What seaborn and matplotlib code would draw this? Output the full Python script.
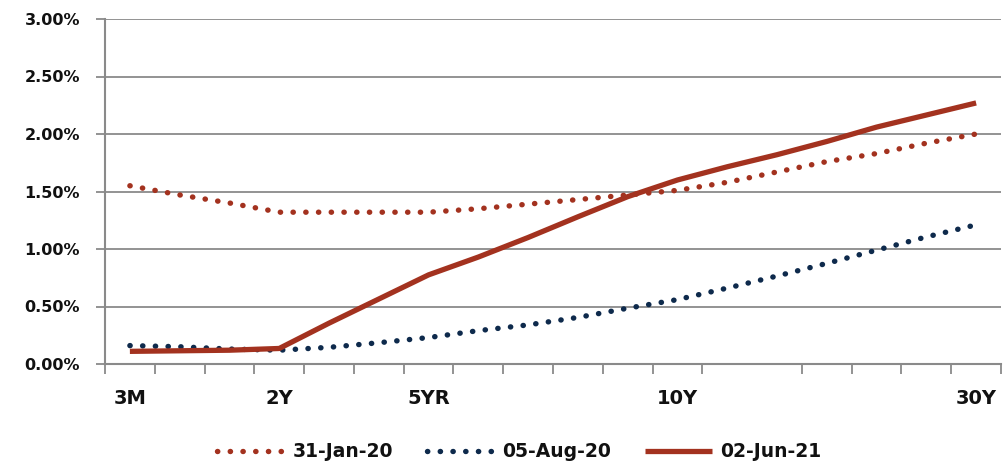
import matplotlib
matplotlib.use("Agg")
import matplotlib.pyplot as plt
import numpy as np
import pandas as pd
import seaborn as sns

# Yield curve tenors (one category per point) and the labels shown on the axis
tenors = ["3M", "6M", "1Y", "2Y", "3Y", "4Y", "5YR", "6Y", "7Y", "8Y",
          "9Y", "10Y", "12Y", "15Y", "20Y", "25Y", "27Y", "30Y"]
shown_labels = ["3M", "2Y", "5YR", "10Y", "30Y"]

# Yields in percent
jan20 = [1.55, 1.47, 1.40, 1.32, 1.32, 1.32, 1.32, 1.35, 1.39, 1.43,
         1.47, 1.51, 1.58, 1.67, 1.76, 1.83, 1.92, 2.00]
aug20 = [0.16, 0.15, 0.13, 0.12, 0.145, 0.185, 0.23, 0.29, 0.34, 0.405,
         0.485, 0.56, 0.66, 0.765, 0.875, 0.99, 1.105, 1.21]
jun21 = [0.11, 0.115, 0.12, 0.135, 0.355, 0.565, 0.775, 0.93, 1.10, 1.28,
         1.455, 1.60, 1.715, 1.82, 1.935, 2.06, 2.165, 2.27]
series_names = ["31-Jan-20", "05-Aug-20", "02-Jun-21"]

df = pd.DataFrame({
    "tenor": tenors * 3,
    "yield": (np.array(jan20 + aug20 + jun21) / 100.0),
    "series": np.repeat(series_names, len(tenors)),
})

RED = "#A3321F"
NAVY = "#0E2A4C"
GRID = "#8A8A8A"
TEXT = "#111111"
PX = 72 / 100  # points per pixel at 100 dpi

sns.set_theme(style="white")
plt.rcParams["font.family"] = ["DejaVu Sans"]
plt.rcParams["font.weight"] = "bold"

fig = plt.figure(figsize=(10.04, 4.66), dpi=100)
ax = fig.add_axes([105 / 1004, 1 - 364 / 466, (1001 - 105) / 1004, (364 - 19) / 466])

styles = {
    "31-Jan-20": dict(color=RED, lw=3.9, dash=(0, (0.05, 2.3))),
    "05-Aug-20": dict(color=NAVY, lw=3.9, dash=(0, (0.05, 2.3))),
    "02-Jun-21": dict(color=RED, lw=3.8, dash="-"),
}
for name in series_names:
    st = styles[name]
    sub = df[df["series"] == name]
    sns.lineplot(data=sub, x="tenor", y="yield", ax=ax, color=st["color"],
                 linewidth=st["lw"], label=name, sort=False)
    line = ax.lines[-1]
    line.set_linestyle(st["dash"])
    line.set_dash_capstyle("round")
    line.set_solid_capstyle("butt")

ax.set_xlim(-0.5, len(tenors) - 0.5)
ax.set_ylim(0, 0.03)
ax.set_yticks(np.arange(0, 0.0301, 0.005))
ax.yaxis.set_major_formatter(matplotlib.ticker.FuncFormatter(lambda v, p: f"{v * 100:.2f}%"))
ax.grid(axis="y", color=GRID, linewidth=1.3)
ax.set_axisbelow(True)

# Category labels centred on their tenors, tick marks on category boundaries
label_pos = [tenors.index(t) for t in shown_labels]
ax.set_xticks(label_pos)
ax.set_xticklabels(shown_labels)
bounds = [b - 0.5 for b in range(len(tenors) + 1) if b != 13]
ax.set_xticks(bounds, minor=True)
ax.tick_params(axis="x", which="major", length=0, pad=25 * PX, labelsize=14, labelcolor=TEXT)
ax.tick_params(axis="x", which="minor", length=10 * PX, width=1.3, color=GRID, direction="out")
ax.tick_params(axis="y", length=9 * PX, width=1.3, color=GRID, direction="out", pad=16 * PX,
               labelsize=11.5, labelcolor=TEXT)
ax.xaxis.set_tick_params(bottom=True, which="both")
ax.yaxis.set_tick_params(left=True)

for side in ["top", "right"]:
    ax.spines[side].set_visible(False)
for side in ["left", "bottom"]:
    ax.spines[side].set_color(GRID)
    ax.spines[side].set_linewidth(1.5)

ax.set_xlabel("")
ax.set_ylabel("")

leg = ax.legend(loc="center", bbox_to_anchor=(0.462, -0.255), ncol=3, frameon=False,
                fontsize=13.5, handlelength=3.6, columnspacing=1.8, handletextpad=0.42,
                borderpad=0.1)
for txt in leg.get_texts():
    txt.set_fontweight("bold")
    txt.set_color(TEXT)

fig.savefig("out.png", dpi=100)
